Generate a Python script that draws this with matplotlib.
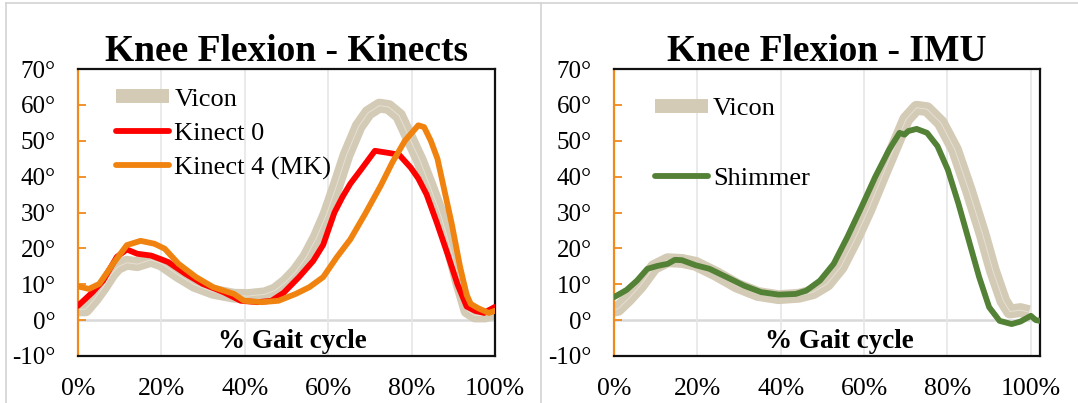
import matplotlib
matplotlib.use("Agg")
import matplotlib.pyplot as plt
from matplotlib.lines import Line2D

plt.rcParams['font.family'] = ['Liberation Serif', 'DejaVu Serif']

# ---- data: knee flexion angle (degrees) over the gait cycle (%) ----
vicon_k_x = [0, 1.8, 4, 6, 8, 9.5, 11.7, 14.2, 17.5, 20, 24, 28, 32.4, 37.4, 40.7,
             44.8, 47.3, 49.8, 52.2, 54.7, 57.2, 59.6, 62, 64.4, 67.3, 69.6, 72.3,
             74.5, 77, 79.6, 82, 84.5, 87.2, 89.4, 91.4, 93.4, 95.2, 97.7, 100]
vicon_k_y = [3.0, 3.0, 6.0, 9.2, 12.8, 14.8, 16.0, 15.6, 16.8, 15.8, 12.6, 9.8, 7.9,
             6.8, 6.7, 7.2, 8.3, 10.6, 13.5, 17.5, 23.0, 29.5, 37.5, 46.0, 54.0, 57.8,
             59.8, 59.4, 57.0, 50.5, 44.5, 37.0, 28.5, 19.5, 10.5, 2.6, 1.3, 1.3, 2.2]

kinect0_x = [0, 3.5, 6, 9.3, 11.7, 14.2, 17.5, 21.6, 25.8, 29.9, 34.9, 39, 43.1, 46.4,
             49.3, 53, 56.4, 58.8, 61.5, 63.5, 65.3, 67.9, 71.2, 74.5, 77, 79.8, 81.6,
             83.6, 86.1, 88.6, 91, 93.2, 95.2, 97.4, 100]
kinect0_y = [4.0, 7.8, 11.0, 17.6, 19.7, 18.5, 18.0, 16.2, 12.9, 10.1, 7.8, 5.4, 5.0,
             5.4, 7.6, 12.0, 16.5, 21.0, 30.0, 34.5, 38.0, 42.0, 47.2, 46.6, 46.1, 42.5,
             39.5, 35.0, 27.0, 18.5, 10.0, 3.8, 2.6, 2.0, 3.7]

kinect4_x = [0, 2.6, 5.1, 8.4, 11.7, 15, 18.3, 20.8, 24.1, 28.3, 32.4, 37.4, 39.8, 44,
             48.1, 52.2, 55.5, 58.8, 62.1, 65.3, 68.8, 72.6, 75.4, 78.4, 81.6, 83, 84.6,
             86.2, 87.8, 89.6, 91.6, 93.2, 94.2, 96, 98.5, 100]
kinect4_y = [9.4, 8.7, 10.1, 15.7, 20.9, 22.1, 21.3, 19.9, 15.7, 12.0, 9.2, 7.3, 5.4,
             5.0, 5.4, 7.3, 9.2, 12.0, 17.6, 22.5, 29.5, 37.5, 44.0, 50.0, 54.3, 53.8,
             50.0, 45.0, 36.5, 27.0, 15.0, 7.0, 4.5, 3.3, 2.0, 2.6]

vicon_i_x = [0, 0.9, 3.5, 6.3, 9.6, 12.9, 16.3, 19.6, 24.5, 29.5, 34.5, 39.5, 44.4,
             47.8, 51.1, 54.4, 57.7, 61, 64.3, 67.7, 70.1, 72.6, 75.1, 78.4, 81.8, 85.1,
             88.4, 90.9, 93.4, 95, 97.5, 99.6]
vicon_i_y = [3.0, 3.1, 6.0, 9.6, 14.8, 16.7, 16.5, 15.7, 12.9, 9.6, 7.3, 6.4, 6.8, 7.8,
             10.1, 14.8, 22.3, 30.7, 40.0, 49.4, 56.0, 59.2, 58.8, 55.0, 47.5, 36.3,
             24.1, 13.8, 5.4, 2.4, 2.8, 2.2]

shimmer_x = [0, 3, 5.5, 8, 10.4, 12.9, 14.6, 16.3, 19.6, 22.9, 27, 31.2, 35.3, 39.5,
             43.6, 46.1, 49.4, 52.7, 56, 59.4, 62.7, 66, 68.5, 69.7, 70.6, 72.6, 75.1,
             77.6, 80.1, 82.6, 85.1, 87.6, 90, 92.5, 95.4, 97.5, 100, 101.2, 102.2]
shimmer_y = [6.4, 8.4, 11.0, 14.3, 15.1, 15.7, 16.8, 16.7, 15.3, 14.3, 12.0, 9.6, 7.8,
             7.1, 7.3, 8.2, 11.0, 15.7, 23.2, 31.6, 40.0, 47.5, 52.2, 51.7, 52.7, 53.3,
             52.2, 48.5, 41.9, 32.6, 22.3, 12.0, 3.6, -0.2, -1.1, -0.4, 1.2, 0.0, -0.2]

x_ticks = [0, 20, 40, 60, 80, 100]
x_tick_labels = ['0%', '20%', '40%', '60%', '80%', '100%']
y_ticks = [-10, 0, 10, 20, 30, 40, 50, 60, 70]
y_tick_labels = ['-10°', '0°', '10°', '20°', '30°', '40°', '50°', '60°', '70°']

TAN = '#D4CBB6'
TAN_CORE = '#E6E0D3'
RED = '#FF0000'
ORANGE = '#F08310'
GREEN = '#538135'
SPINE_ORANGE = '#F08A1C'

W, H = 1078, 403
fig = plt.figure(figsize=(W / 100, H / 100), dpi=100)


def px_axes(x0, y0, x1, y1):
    return fig.add_axes([x0 / W, 1 - y1 / H, (x1 - x0) / W, (y1 - y0) / H])


def style(ax, xmax, title, label_x):
    ax.set_xlim(0, xmax)
    ax.set_ylim(-10, 70)
    ax.set_xticks(x_ticks)
    ax.set_xticklabels(x_tick_labels)
    ax.set_yticks(y_ticks)
    ax.set_yticklabels(y_tick_labels)
    ax.tick_params(axis='x', length=0, pad=16, labelsize=18.5)
    ax.tick_params(axis='y', direction='in', length=5.5, width=1.3,
                   color=SPINE_ORANGE, pad=16, labelsize=18)
    ax.grid(axis='x', color='#E6E6E6', lw=1.2, zorder=0)
    ax.axhline(0, color='#D9D9D9', lw=1.8, zorder=1)
    for side in ('top', 'right', 'bottom'):
        ax.spines[side].set_color('#111111')
        ax.spines[side].set_linewidth(1.6)
    ax.spines['left'].set_color(SPINE_ORANGE)
    ax.spines['left'].set_linewidth(1.6)
    ax.set_title(title, fontsize=27, fontweight='bold', pad=5)
    ax.text(label_x, -5.9, '% Gait cycle', fontsize=19.5, fontweight='bold',
            ha='center', va='center')


def vicon(ax, x, y):
    ax.plot(x, y, color=TAN, lw=10, solid_capstyle='butt',
            solid_joinstyle='round', zorder=2)
    ax.plot(x, y, color=TAN_CORE, lw=0.7, zorder=2.1)


def trace(ax, x, y, color):
    ax.plot(x, y, color=color, lw=4.2, solid_capstyle='round',
            solid_joinstyle='round', zorder=3)


# Kinect panel
ax1 = px_axes(78, 69, 495, 356)
vicon(ax1, vicon_k_x, vicon_k_y)
trace(ax1, kinect0_x, kinect0_y, RED)
trace(ax1, kinect4_x, kinect4_y, ORANGE)
style(ax1, 100, 'Knee Flexion - Kinects', 51.3)
h1 = [Line2D([], [], color=TAN, lw=10, solid_capstyle='butt'),
      Line2D([], [], color=RED, lw=4.2, solid_capstyle='round'),
      Line2D([], [], color=ORANGE, lw=4.2, solid_capstyle='round')]
ax1.legend(h1, ['Vicon', 'Kinect 0', 'Kinect 4 (MK)'], loc='upper left',
           bbox_to_anchor=(0.092, 0.937), frameon=False, fontsize=19,
           handlelength=2.0, handletextpad=0.2, labelspacing=0.42,
           borderpad=0, borderaxespad=0)

# IMU panel
ax2 = px_axes(614, 69, 1040, 356)
vicon(ax2, vicon_i_x, vicon_i_y)
trace(ax2, shimmer_x, shimmer_y, GREEN)
style(ax2, 102.2, 'Knee Flexion - IMU', 54.0)
h2 = [Line2D([], [], color=TAN, lw=10, solid_capstyle='butt'),
      Line2D([], [], color=GREEN, lw=4.2, solid_capstyle='round')]
ax2.legend(h2, ['Vicon', 'Shimmer'], loc='upper left',
           bbox_to_anchor=(0.096, 0.905), frameon=False, fontsize=19,
           handlelength=2.0, handletextpad=0.2, labelspacing=1.78,
           borderpad=0, borderaxespad=0)

# chart frames
frame = dict(transform=fig.transFigure, color='#D3D3D3', lw=1.2)
fig.add_artist(Line2D([6 / W, 1], [1 - 3 / H, 1 - 3 / H], **frame))
fig.add_artist(Line2D([6 / W, 6 / W], [0, 1 - 3 / H], **frame))
fig.add_artist(Line2D([541 / W, 541 / W], [0, 1 - 3 / H], **frame))

fig.savefig('out.png', dpi=100)
